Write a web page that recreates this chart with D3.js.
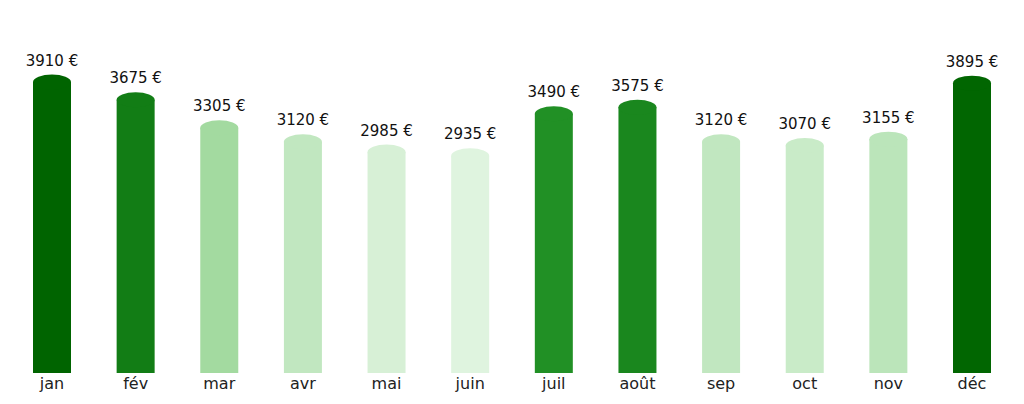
<!DOCTYPE html>
<html lang="fr">
<head>
<meta charset="utf-8">
<title>Dépenses mensuelles</title>
<script src="https://d3js.org/d3.v7.min.js"></script>
<style>
  body { margin: 0; background: #fff; }
  text { font-family: "DejaVu Sans", sans-serif; }
</style>
</head>
<body>
<div id="chart"></div>
<script>
// data
var months = ["jan", "fév", "mar", "avr", "mai", "juin", "juil", "août", "sep", "oct", "nov", "déc"];
var amounts = [3910, 3675, 3305, 3120, 2985, 2935, 3490, 3575, 3120, 3070, 3155, 3895];

var w = 1024, h = 404;
var baseline = 373;
var capRy = 7.5;

var svg = d3.select("#chart").append("svg")
    .attr("width", w)
    .attr("height", h);

var x = d3.scaleBand()
    .domain(months)
    .range([10, 1014])
    .paddingInner(0.5457)
    .paddingOuter(0.275);

// y gives the top of the rounded cap
var y = d3.scaleLinear()
    .domain([0, 4000])
    .range([370.5, 67.7]);

// bars above the mean in dark greens, below it in pale greens
var mean = d3.mean(amounts);
var above = amounts.filter(function(v) { return v >= mean; });
var below = amounts.filter(function(v) { return v < mean; });
var darkColor = d3.scaleLinear()
    .domain([d3.min(above), d3.max(above)])
    .range(["#219025", "#006400"]);
var lightColor = d3.scaleLinear()
    .domain([d3.min(below), d3.max(below)])
    .range(["#dff4df", "#a3daa0"]);
function color(v) { return v >= mean ? darkColor(v) : lightColor(v); }

var data = months.map(function(m, i) { return { month: m, value: amounts[i] }; });

var bars = svg.selectAll("g.bar")
    .data(data)
    .enter()
    .append("g")
    .attr("class", "bar");

bars.append("rect")
    .attr("x", function(d) { return x(d.month); })
    .attr("y", function(d) { return y(d.value) + capRy; })
    .attr("width", x.bandwidth())
    .attr("height", function(d) { return baseline - y(d.value) - capRy; })
    .attr("fill", function(d) { return color(d.value); });

bars.append("ellipse")
    .attr("cx", function(d) { return x(d.month) + x.bandwidth() / 2; })
    .attr("cy", function(d) { return y(d.value) + capRy; })
    .attr("rx", x.bandwidth() / 2)
    .attr("ry", capRy)
    .attr("fill", function(d) { return color(d.value); });

bars.append("text")
    .attr("x", function(d) { return x(d.month) + x.bandwidth() / 2; })
    .attr("y", function(d) { return y(d.value) - 9; })
    .attr("text-anchor", "middle")
    .attr("font-size", 15)
    .attr("fill", "#111")
    .text(function(d) { return d.value + " €"; });

// x axis labels only, no line or ticks
var xAxis = svg.append("g")
    .attr("transform", "translate(0," + baseline + ")")
    .call(d3.axisBottom(x).tickSize(0).tickPadding(4.5));
xAxis.select(".domain").remove();
xAxis.selectAll("text")
    .attr("font-size", 16)
    .attr("font-family", "DejaVu Sans, sans-serif")
    .attr("fill", "#222");
</script>
</body>
</html>
